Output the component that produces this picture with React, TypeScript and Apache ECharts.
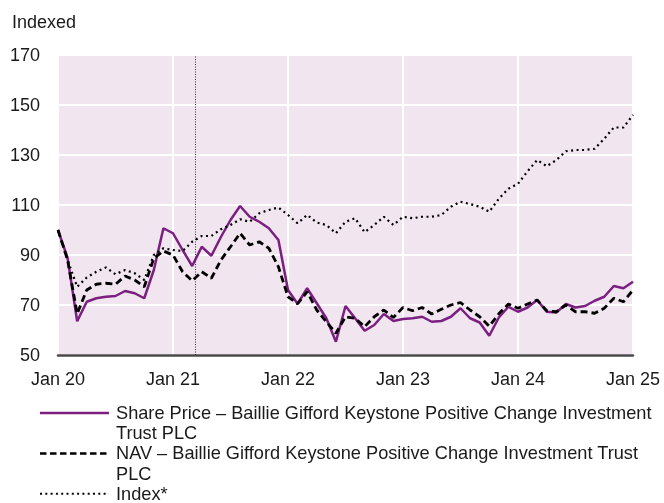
import React, { useEffect, useRef } from "react";
import * as echarts from "echarts";

const xTickLabels = ["Jan 20", "Jan 21", "Jan 22", "Jan 23", "Jan 24", "Jan 25"];
const yTicks = [50, 70, 90, 110, 130, 150, 170];

const sharePrice = [
  100, 88.8, 63.5, 71.3, 72.7, 73.3, 73.6, 75.6, 74.7, 72.7,
  84, 100.7, 98.7, 92, 85.6, 93.3, 89.7, 97.2, 104, 109.6,
  105.3, 103.3, 100.7, 96, 76, 70.5, 76.7, 70.7, 64.7, 55.3,
  69.6, 64.7, 59.7, 62, 66.4, 63.6, 64.4, 64.7, 65.3, 63.3,
  63.6, 65.3, 68.7, 64.7, 63, 57.7, 65, 69.3, 67.3, 69,
  72, 67.3, 67, 70.4, 69, 69.6, 71.7, 73.3, 77.6, 76.7, 79.3,
];

const nav = [
  100, 88, 66.5, 76, 78.3, 78.7, 78.3, 81.6, 80, 77.3,
  88.7, 91.6, 90, 83.3, 79.7, 83.3, 80.7, 88, 93.3, 98.7,
  94, 95.3, 92.7, 85.3, 73.3, 70.5, 75.3, 68, 63.3, 58.7,
  65.3, 64.7, 61.3, 65.3, 68, 65, 69, 67.7, 69, 66.4,
  68.3, 70, 71, 68, 65.3, 61.5, 66.5, 70.4, 68.7, 70.4,
  72, 67.7, 67.3, 70, 67.3, 67.3, 66.7, 68.7, 72.7, 71.3, 76,
];

const indexSeries = [
  100, 88, 77.3, 81, 83.3, 85, 82.3, 84, 82.7, 80,
  90, 92.7, 92, 91.6, 95.3, 97.6, 97.6, 100.3, 102, 104.3,
  103.3, 106.7, 108, 109, 106, 102.7, 106, 103, 102, 98.7,
  103.3, 104.7, 99.1, 102, 105.3, 102, 105.3, 104.7, 105.3, 105.3,
  106, 109.3, 111.3, 110.4, 109.3, 107.3, 112.5, 116.5, 118.5, 123.5,
  128, 125.5, 128, 131.5, 132, 132, 132.5, 136.5, 141, 141, 146,
];

const legendNames = [
  "Share Price – Baillie Gifford Keystone Positive Change Investment\nTrust PLC",
  "NAV – Baillie Gifford Keystone Positive Change Investment Trust\nPLC",
  "Index*",
];

const eventMonth = 14.3;

const PURPLE = "#7b1f81";
const FONT = "'Liberation Sans', Arial, Helvetica, sans-serif";

export default function App() {
  const ref = useRef<HTMLDivElement>(null);

  useEffect(() => {
    if (!ref.current) return;
    const chart = echarts.init(ref.current, undefined, { renderer: "svg" });
    const toPairs = (arr: number[]) => arr.map((v, i) => [i, v]);

    const LH = 20.2;
    const firstY = 413;
    const legendY = [firstY, firstY + 2 * LH, firstY + 4 * LH];
    const legendLH = [LH, LH, 17];
    const legendStyles: any[] = [
      { stroke: PURPLE, lineWidth: 2.5 },
      { stroke: "#000", lineWidth: 2.5, lineDash: [6.5, 3.5] },
      { stroke: "#000", lineWidth: 2, lineDash: [2, 3.3] },
    ];
    const graphics: any[] = [
      {
        type: "text",
        x: 12,
        y: 22,
        style: {
          text: "Indexed",
          font: `18px ${FONT}`,
          fill: "#1a1a1a",
          verticalAlign: "middle",
        },
      },
    ];
    legendNames.forEach((name, i) => {
      graphics.push({
        type: "line",
        shape: { x1: 40, y1: legendY[i], x2: 109, y2: legendY[i] },
        style: legendStyles[i],
      });
      graphics.push({
        type: "text",
        x: 116,
        y: legendY[i] - legendLH[i] / 2,
        style: {
          text: name,
          font: `18.2px ${FONT}`,
          fill: "#1a1a1a",
          lineHeight: legendLH[i],
          verticalAlign: "top",
        },
      });
    });

    chart.setOption({
      animation: false,
      textStyle: { fontFamily: FONT },
      grid: {
        left: 58,
        right: 31,
        top: 55,
        bottom: 148,
        show: true,
        backgroundColor: "#f1e6ef",
        borderWidth: 0,
      },
      xAxis: {
        type: "value",
        min: 0,
        max: 60,
        interval: 12,
        axisLine: { show: true, lineStyle: { color: "#4a4a4a", width: 2.5 } },
        axisTick: { show: false },
        splitLine: { show: true, lineStyle: { color: "#ffffff", width: 2 } },
        axisLabel: {
          color: "#1a1a1a",
          fontSize: 18,
          margin: 15,
          formatter: (v: number) => xTickLabels[Math.round(v / 12)] ?? "",
        },
      },
      yAxis: {
        type: "value",
        min: 50,
        max: 170,
        interval: 20,
        axisLine: { show: false },
        axisTick: { show: false },
        splitLine: { show: true, lineStyle: { color: "#ffffff", width: 2 } },
        axisLabel: {
          color: "#1a1a1a",
          fontSize: 18,
          margin: 18,
          formatter: (v: number) => (yTicks.includes(v) ? String(v) : ""),
        },
      },
      graphic: graphics,
      series: [
        {
          name: "Share Price",
          type: "line",
          data: toPairs(sharePrice),
          showSymbol: false,
          lineStyle: { color: PURPLE, width: 2.5 },
          z: 3,
          markLine: {
            silent: true,
            symbol: "none",
            label: { show: false },
            lineStyle: { color: "#333", width: 1, type: [1, 1.5] },
            data: [{ xAxis: eventMonth }],
          },
        },
        {
          name: "NAV",
          type: "line",
          data: toPairs(nav),
          showSymbol: false,
          lineStyle: { color: "#000", width: 2.8, type: [7, 4] },
          z: 4,
        },
        {
          name: "Index",
          type: "line",
          data: toPairs(indexSeries),
          showSymbol: false,
          lineStyle: { color: "#000", width: 2.2, type: [2, 3.5] },
          z: 4,
        },
      ],
    });
    return () => chart.dispose();
  }, []);

  return (
    <div
      ref={ref}
      style={{ position: "fixed", left: 0, top: 0, width: 664, height: 503 }}
    />
  );
}
